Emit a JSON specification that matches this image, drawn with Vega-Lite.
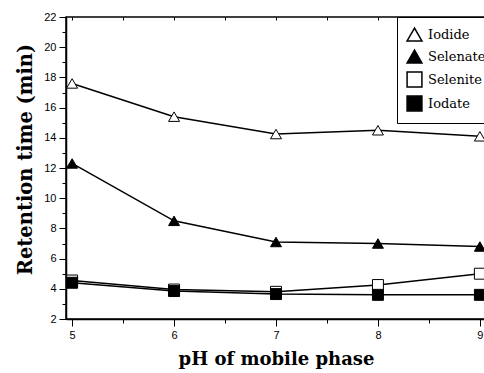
{
  "$schema": "https://vega.github.io/schema/vega-lite/v6.json",
  "width": 420,
  "height": 302,
  "autosize": {"type": "none"},
  "padding": {"left": 66, "top": 17, "right": 0, "bottom": 54},
  "background": "white",
  "config": {
    "view": {"stroke": "black", "strokeWidth": 1.5},
    "legend": {
      "labelFont": "DejaVu Serif",
      "labelFontSize": 13, "labelColor": "black"
    }
  },
  "data": {
    "values": [
      {"pH": 5, "series": "Iodide", "rt": 17.6},
      {"pH": 6, "series": "Iodide", "rt": 15.4},
      {"pH": 7, "series": "Iodide", "rt": 14.25},
      {"pH": 8, "series": "Iodide", "rt": 14.5},
      {"pH": 9, "series": "Iodide", "rt": 14.1},
      {"pH": 5, "series": "Selenate", "rt": 12.3},
      {"pH": 6, "series": "Selenate", "rt": 8.5},
      {"pH": 7, "series": "Selenate", "rt": 7.1},
      {"pH": 8, "series": "Selenate", "rt": 7.0},
      {"pH": 9, "series": "Selenate", "rt": 6.8},
      {"pH": 5, "series": "Selenite", "rt": 4.55},
      {"pH": 6, "series": "Selenite", "rt": 3.95},
      {"pH": 7, "series": "Selenite", "rt": 3.8},
      {"pH": 8, "series": "Selenite", "rt": 4.25},
      {"pH": 9, "series": "Selenite", "rt": 5.0},
      {"pH": 5, "series": "Iodate", "rt": 4.4},
      {"pH": 6, "series": "Iodate", "rt": 3.85},
      {"pH": 7, "series": "Iodate", "rt": 3.65},
      {"pH": 8, "series": "Iodate", "rt": 3.6},
      {"pH": 9, "series": "Iodate", "rt": 3.6}
    ]
  },
  "encoding": {
    "y": {
      "field": "rt", "type": "quantitative",
      "scale": {"domain": [2, 22], "nice": false, "zero": false},
      "axis": {
        "title": "Retention time (min)",
        "titleFont": "DejaVu Serif", "titleFontWeight": "bold", "titleFontSize": 19.5,
        "titleColor": "black", "titlePadding": 8, "titleY": 142,
        "values": [2,3,4,5,6,7,8,9,10,11,12,13,14,15,16,17,18,19,20,21,22],
        "labelExpr": "datum.value % 2 === 0 ? datum.label : ''",
        "labelFont": "Liberation Sans", "labelFontSize": 11, "labelColor": "black", "labelPadding": 3,
        "tickSize": {"condition": {"test": "datum.value % 2 !== 0", "value": 4}, "value": 7},
        "tickColor": "black", "tickWidth": 1, "domainColor": "black", "domainWidth": 1.5,
        "grid": false
      }
    }
  },
  "layer": [
    {
      "mark": {"type": "line", "color": "black", "strokeWidth": 1.5},
      "encoding": {
        "x": {
          "field": "pH", "type": "quantitative",
          "scale": {"domain": [4.94, 9.06], "nice": false, "zero": false},
          "axis": {
            "orient": "top", "title": null, "labels": false, "domain": false, "grid": false,
            "values": [5, 5.5, 6, 6.5, 7, 7.5, 8, 8.5, 9],
            "tickSize": -3, "tickColor": "black", "tickWidth": 1
          }
        },
        "detail": {"field": "series"}
      }
    },
    {
      "mark": {"type": "point", "filled": true, "strokeWidth": 1, "size": 120, "opacity": 1},
      "encoding": {
        "x": {
          "field": "pH", "type": "quantitative",
          "scale": {"domain": [4.94, 9.06], "nice": false, "zero": false},
          "axis": {
            "orient": "bottom",
            "title": "pH of mobile phase",
            "titleFont": "DejaVu Serif", "titleFontWeight": "bold", "titleFontSize": 18,
            "titleColor": "black", "titlePadding": 10,
            "values": [5, 5.5, 6, 6.5, 7, 7.5, 8, 8.5, 9],
            "format": ".0f",
            "labelExpr": "datum.value % 1 === 0 ? datum.label : ''",
            "labelFont": "Liberation Sans", "labelFontSize": 11, "labelColor": "black", "labelPadding": 3,
            "tickSize": {"condition": {"test": "datum.value % 1 !== 0", "value": 4}, "value": 7},
            "tickColor": "black", "tickWidth": 1, "domainColor": "black", "domainWidth": 1.5,
            "grid": false
          }
        },
        "shape": {
          "field": "series", "type": "nominal",
          "scale": {"domain": ["Iodide", "Selenate", "Selenite", "Iodate"], "range": ["triangle-up", "triangle-up", "square", "square"]},
          "legend": {
            "title": null, "orient": "none", "legendX": 331, "legendY": 0,
            "strokeColor": "black", "fillColor": "white", "padding": 9,
            "symbolSize": 220, "rowPadding": 3, "labelOffset": 5
          }
        },
        "fill": {
          "field": "series", "type": "nominal",
          "scale": {"domain": ["Iodide", "Selenate", "Selenite", "Iodate"], "range": ["white", "black", "white", "black"]}
        },
        "stroke": {
          "field": "series", "type": "nominal",
          "scale": {"domain": ["Iodide", "Selenate", "Selenite", "Iodate"], "range": ["black", "black", "black", "black"]}
        }
      }
    }
  ]
}
